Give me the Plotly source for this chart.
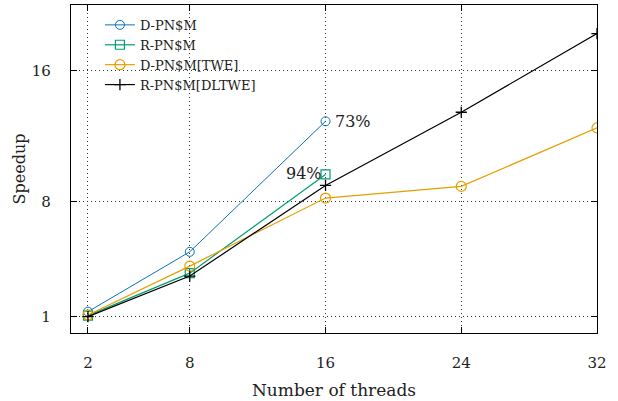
import plotly.graph_objects as go

threads_short = [2, 8, 16]
threads_all = [2, 8, 16, 24, 32]
d_pnsm = [1.30, 4.95, 12.91]
r_pnsm = [1.06, 3.65, 9.67]
d_pnsm_twe = [1.10, 4.08, 8.23, 8.94, 12.51]
r_pnsm_dltwe = [1.00, 3.47, 9.00, 13.46, 18.26]

x_ticks = [2, 8, 16, 24, 32]
y_ticks = [1, 8, 16]

FONT = "DejaVu Serif, 'Liberation Serif', serif"

fig = go.Figure()
fig.add_trace(go.Scatter(x=threads_short, y=d_pnsm, name="D-PN$M", mode="lines+markers",
                         line=dict(color="#0a72bd", width=1),
                         marker=dict(symbol="circle-open", size=9, color="#0a72bd", line=dict(width=1))))
fig.add_trace(go.Scatter(x=threads_short, y=r_pnsm, name="R-PN$M", mode="lines+markers",
                         line=dict(color="#009e73", width=1.2),
                         marker=dict(symbol="square-open", size=9, color="#009e73", line=dict(width=1.2))))
fig.add_trace(go.Scatter(x=threads_all, y=d_pnsm_twe, name="D-PN$M[TWE]", mode="lines+markers",
                         line=dict(color="#e69f00", width=1.2),
                         marker=dict(symbol="circle-open", size=10, color="#e69f00", line=dict(width=1.2))))
fig.add_trace(go.Scatter(x=threads_all, y=r_pnsm_dltwe, name="R-PN$M[DLTWE]", mode="lines+markers",
                         line=dict(color="black", width=1.2),
                         marker=dict(symbol="cross-thin-open", size=8, color="black", line=dict(width=1.3, color="black"))))

fig.add_annotation(x=16, y=d_pnsm[-1], text="73%", showarrow=False, xanchor="left", xshift=7,
                   font=dict(family=FONT, size=16, color="#222"))
fig.add_annotation(x=16, y=r_pnsm[-1], text="94%", showarrow=False, xanchor="right", xshift=-2, yshift=1,
                   font=dict(family=FONT, size=16, color="#222"))

axis_common = dict(showline=True, linecolor="black", linewidth=1.3, mirror="ticks",
                   ticks="inside", ticklen=6, tickcolor="black", tickwidth=1,
                   showgrid=True, gridcolor="#333", griddash="1px,3px", gridwidth=1,
                   zeroline=False, tickfont=dict(family=FONT, size=15, color="#222"))

fig.update_layout(
    width=618, height=401,
    margin=dict(l=71, r=21, t=5, b=68),
    plot_bgcolor="white", paper_bgcolor="white",
    font=dict(family=FONT, color="#222"),
    xaxis=dict(range=[1, 32], tickvals=x_ticks, ticklabelstandoff=16,
               title=dict(text="Number of threads", font=dict(family=FONT, size=17), standoff=12),
               **axis_common),
    yaxis=dict(range=[0, 20], tickvals=y_ticks, ticklabelstandoff=16,
               title=dict(text="Speedup", font=dict(family=FONT, size=16), standoff=2),
               **axis_common),
    legend=dict(x=0.055, y=0.985, xanchor="left", yanchor="top", bgcolor="rgba(0,0,0,0)",
                font=dict(family=FONT, size=13, color="#222"), tracegroupgap=0, itemwidth=30),
    showlegend=True,
)

fig.write_html("out.html")
